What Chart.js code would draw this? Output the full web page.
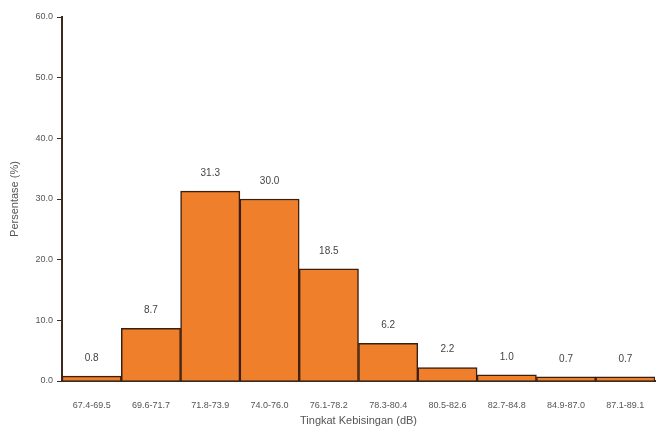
<!DOCTYPE html>
<html>
<head>
<meta charset="utf-8">
<script src="https://cdn.jsdelivr.net/npm/chart.js@4/dist/chart.umd.min.js"></script>
<style>
  html, body { margin: 0; padding: 0; background: #fff; }
  #wrap { width: 667px; height: 437px; }
</style>
</head>
<body>
<div id="wrap"><canvas id="noiseChart" width="667" height="437"></canvas></div>
<script>
// kelas tingkat kebisingan (dB)
const classes = ['67.4-69.5', '69.6-71.7', '71.8-73.9', '74.0-76.0', '76.1-78.2',
                 '78.3-80.4', '80.5-82.6', '82.7-84.8', '84.9-87.0', '87.1-89.1'];
// persentase (%)
const percentages = [0.8, 8.7, 31.3, 30.0, 18.5, 6.2, 2.2, 1.0, 0.7, 0.7];
const yTicks = [0, 10, 20, 30, 40, 50, 60];

const textColor = '#555555';
const fontFamily = '"Liberation Sans", Arial, sans-serif';

// labels above each bar
const barLabels = {
    id: 'barLabels',
    afterDatasetsDraw(chart) {
        const ctx = chart.ctx;
        const meta = chart.getDatasetMeta(0);
        ctx.save();
        ctx.fillStyle = '#444';
        ctx.font = '10px ' + fontFamily;
        ctx.textAlign = 'center';
        ctx.textBaseline = 'middle';
        meta.data.forEach((bar, i) => {
            ctx.fillText(percentages[i].toFixed(1), bar.x, bar.y - 18);
        });
        ctx.restore();
    }
};

const ctx = document.getElementById('noiseChart').getContext('2d');
new Chart(ctx, {
    type: 'bar',
    data: {
        labels: classes,
        datasets: [{
            data: percentages,
            backgroundColor: '#F07F2C',
            borderColor: '#3a1e0e',
            borderWidth: 1.5,
            borderSkipped: 'bottom',
            barPercentage: 1,
            categoryPercentage: 1
        }]
    },
    options: {
        responsive: false,
        animation: false,
        layout: { padding: { top: 17, right: 12, left: 8, bottom: 9 } },
        plugins: {
            legend: { display: false },
            tooltip: { enabled: false }
        },
        scales: {
            x: {
                grid: { display: false },
                border: { color: '#3a2a20', width: 2 },
                ticks: {
                    color: textColor,
                    font: { size: 9, family: fontFamily },
                    maxRotation: 0,
                    autoSkip: false,
                    padding: 11
                },
                title: {
                    display: true,
                    text: 'Tingkat Kebisingan (dB)',
                    color: textColor,
                    font: { size: 11, family: fontFamily },
                    padding: { top: 0, bottom: 0 }
                },
                afterFit(scale) { scale.height = 47; }
            },
            y: {
                min: 0,
                max: 60,
                afterBuildTicks(scale) {
                    scale.ticks = yTicks.map(v => ({ value: v }));
                },
                grid: {
                    drawOnChartArea: false,
                    drawTicks: true,
                    tickLength: 5,
                    color: '#3a2a20'
                },
                border: { color: '#3a2a20', width: 2 },
                ticks: {
                    color: textColor,
                    font: { size: 9, family: fontFamily },
                    padding: 4,
                    callback: v => v.toFixed(1)
                },
                title: {
                    display: true,
                    text: 'Persentase (%)',
                    color: textColor,
                    font: { size: 11, family: fontFamily },
                    padding: { top: 0, bottom: 2 }
                },
                afterFit(scale) { scale.width = 54; }
            }
        }
    },
    plugins: [barLabels]
});
</script>
</body>
</html>
